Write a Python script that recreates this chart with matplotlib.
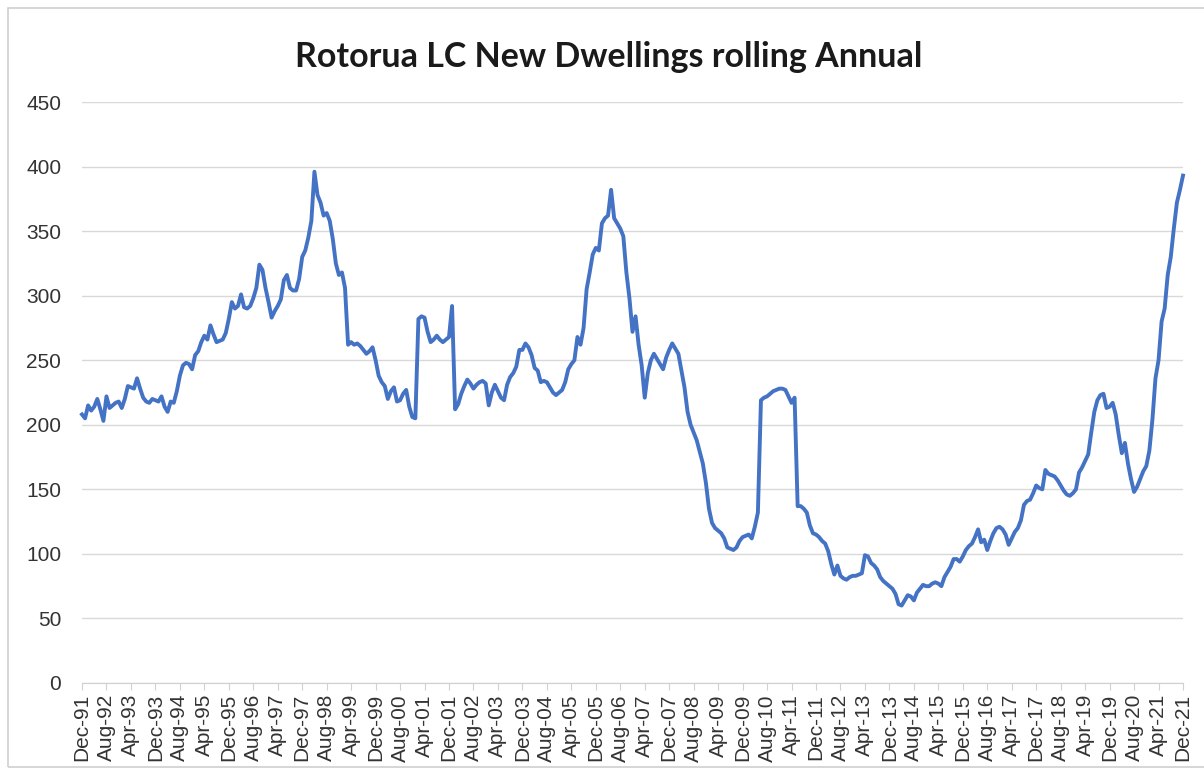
import matplotlib
matplotlib.use("Agg")
import matplotlib.pyplot as plt
import numpy as np
import pandas as pd

# monthly rolling annual count of new dwellings, Dec-91 .. Dec-21
dwellings = [
    208, 205, 215, 211, 214, 220, 212, 203, 222, 213, 215, 217,  # Dec91-Nov92
    218, 213, 220, 230, 229, 228, 236, 228, 221, 218, 217, 220,
    219, 218, 222, 214, 210, 218, 217, 226, 238, 246, 248, 247,
    243, 254, 257, 264, 269, 266, 277, 270, 264, 265, 266, 271,
    282, 295, 290, 292, 301, 291, 290, 292, 298, 306, 324, 320,
    306, 295, 283, 288, 292, 297, 312, 316, 306, 304, 304, 313,
    330, 335, 345, 358, 396, 378, 372, 362, 364, 358, 344, 325,
    316, 318, 306, 262, 264, 262, 263, 261, 258, 255, 257, 260,
    250, 238, 233, 230, 220, 226, 229, 218, 219, 224, 227, 214,
    206, 205, 282, 284, 283, 272, 264, 266, 269, 266, 264, 266,
    268, 292, 212, 216, 224, 230, 235, 232, 228, 231, 233, 234,
    232, 215, 225, 231, 226, 221, 219, 231, 237, 240, 245, 258,
    258, 263, 260, 254, 244, 242, 233, 234, 233, 229, 225, 223,
    225, 227, 233, 243, 247, 250, 268, 262, 275, 305, 318, 332,
    337, 335, 356, 360, 362, 382, 360, 356, 352, 346, 318, 298,
    272, 284, 262, 246, 221, 240, 250, 255, 251, 247, 243, 252,
    258, 263, 259, 255, 242, 229, 210, 200, 194, 188, 179, 170,
    155, 135, 124, 120, 118, 116, 112, 105, 104, 103, 105, 110,
    113, 114, 115, 112, 121, 132, 219, 221, 222, 224, 226, 227,
    228, 228, 227, 222, 217, 221, 137, 137, 135, 132, 122, 116,
    115, 113, 110, 108, 102, 92, 84, 91, 83, 81, 80, 82,
    83, 83, 84, 85, 99, 98, 93, 91, 88, 82, 79, 77,
    75, 73, 69, 61, 60, 64, 68, 67, 64, 70, 73, 76,
    75, 75, 77, 78, 77, 75, 82, 86, 90, 96, 96, 94,
    98, 103, 106, 108, 113, 119, 109, 111, 103, 110, 116, 120,
    121, 119, 115, 107, 112, 117, 120, 126, 138, 141, 142, 147,
    153, 151, 150, 165, 162, 161, 160, 157, 153, 149, 146, 145,
    147, 150, 163, 167, 172, 177, 194, 210, 219, 223, 224, 213,
    214, 217, 208, 192, 178, 186, 170, 158, 148, 152, 158, 164,
    168, 180, 204, 236, 250, 280, 290, 316, 330, 352, 372, 382,
    393,
]
months = pd.date_range("1991-12-01", periods=len(dwellings), freq="MS")
tick_step = 8
y_ticks = [0, 50, 100, 150, 200, 250, 300, 350, 400, 450]
title = "Rotorua LC New Dwellings rolling Annual"

W, H = 1204, 776
fig = plt.figure(figsize=(W / 100, H / 100), dpi=100)
fig.patch.set_facecolor("white")

# chart-area frame
fig.add_artist(plt.Rectangle((8 / W, 1 - 767 / H), 1.2, (767 - 8) / H,
                             transform=fig.transFigure, fill=False,
                             edgecolor="#d0d0d0", lw=1.2))

ax = fig.add_axes([82 / W, 1 - 683 / H, (1183 - 82) / W, (683 - 102) / H])
x = np.arange(len(dwellings))
ax.plot(x, dwellings, color="#4472C4", lw=2.8, solid_joinstyle="round", clip_on=False)

ax.set_xlim(0, len(dwellings) - 1)
ax.set_ylim(0, 450)
ax.set_yticks(y_ticks)
ax.yaxis.grid(True, color="#d9d9d9", lw=1.0)
ax.set_axisbelow(True)

tpos = x[::tick_step]
ax.set_xticks(tpos)
ax.set_xticklabels([m.strftime("%b-%y") for m in months[::tick_step]], rotation=90)

for s in ["top", "right", "left"]:
    ax.spines[s].set_visible(False)
ax.spines["bottom"].set_color("#d0d0d0")
ax.tick_params(axis="y", length=0, pad=15, labelsize=15, labelcolor="#333333")
ax.tick_params(axis="x", length=5, color="#d0d0d0", pad=3, labelsize=15,
               labelcolor="#333333")
for lab in ax.get_xticklabels() + ax.get_yticklabels():
    lab.set_fontfamily("Liberation Sans")

fig.text(609 / W, 1 - 57 / H, title, ha="center", va="center",
         fontsize=24.5, fontweight="bold", family="Lato", color="#1a1a1a")

fig.savefig("out.png", dpi=100, facecolor="white")
